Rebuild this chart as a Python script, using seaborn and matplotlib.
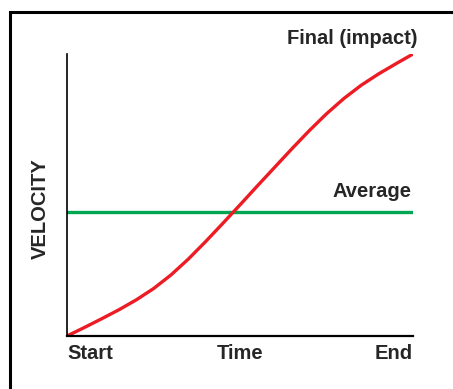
import matplotlib
matplotlib.use("Agg")
import matplotlib.pyplot as plt
import seaborn as sns
from matplotlib.patches import Rectangle

# data (x: 0 = start, 10 = end; y: 0..10 velocity)
time_x = [0, 0.5, 1, 1.5, 2, 2.5, 3, 3.5, 4, 4.5, 5,
          5.5, 6, 6.5, 7, 7.5, 8, 8.5, 9, 9.5, 10]
velocity_y = [0, 0.30, 0.61, 0.93, 1.28, 1.68, 2.16, 2.72, 3.34, 3.99, 4.65,
              5.32, 5.98, 6.64, 7.28, 7.88, 8.42, 8.89, 9.29, 9.65, 10]
average_v = 4.41
tick_pos = [0, 5, 10]
tick_labels = ["Start", "Time", "End"]

sns.set_theme(style="white")
plt.rcParams["font.family"] = ["Liberation Sans", "DejaVu Sans"]

fig = plt.figure(figsize=(4.53, 3.89), dpi=100)
ax = fig.add_axes([67 / 453, 53 / 389, 346 / 453, 282 / 389])

# outer frame (runs off the right and bottom edge)
fig.patches.append(Rectangle((10 / 453, -0.1), 1.0, 1 - 12 / 389 + 0.1,
                             transform=fig.transFigure, fill=False,
                             edgecolor="black", linewidth=2.2, clip_on=False))

sns.lineplot(x=[0, 10], y=[average_v, average_v], color="#00A651", linewidth=2.4, ax=ax)
sns.lineplot(x=time_x, y=velocity_y, color="#ED1C24", linewidth=2.4, ax=ax, sort=False)

ax.set_xlim(0, 10)
ax.set_ylim(0, 10)
sns.despine(ax=ax)
ax.spines["left"].set_linewidth(1.2)
ax.spines["bottom"].set_linewidth(1.6)
ax.spines["left"].set_color("black")
ax.spines["bottom"].set_color("black")

ax.set_yticks([])
ax.set_xticks(tick_pos)
labels = ax.set_xticklabels(tick_labels, fontsize=14.5, fontweight="bold")
labels[0].set_ha("left")
labels[2].set_ha("right")
ax.tick_params(axis="x", length=0, pad=6)

ax.set_ylabel("VELOCITY", fontsize=14.5, fontweight="bold")
ax.yaxis.set_label_coords(-0.05, 0.45)

ax.text(10.14, 10.35, "Final (impact)", ha="right", va="baseline",
        fontsize=14.5, fontweight="bold", clip_on=False)
ax.text(9.97, 4.93, "Average", ha="right", va="baseline",
        fontsize=14.5, fontweight="bold", clip_on=False)

fig.savefig("out.png", dpi=100)
